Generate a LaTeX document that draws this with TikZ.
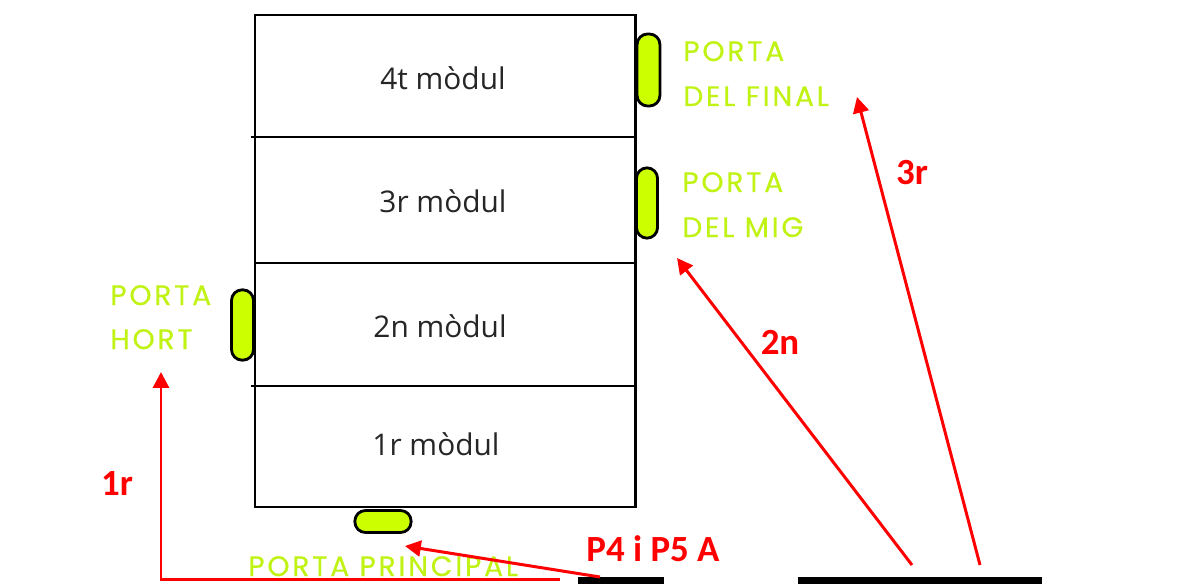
\documentclass[tikz,border=0pt]{standalone}
\usepackage{fontspec}
\setmainfont{Open Sans}
\newfontfamily\redfont{Carlito}
\newfontfamily\doorfont{Poppins}[LetterSpace=10,FakeBold=0.5]
\usetikzlibrary{arrows.meta}
\definecolor{lima}{RGB}{204,255,0}
\definecolor{limatxt}{RGB}{192,242,20}
\tikzset{
  mur/.style={line width=1.7pt},
  modul/.style={font=\fontsize{17}{20}\selectfont,text=black!85,anchor=base},
  porta/.style={draw,line width=1.6pt,fill=lima,rounded corners=6pt,inner sep=0pt},
  portatxt/.style={font=\doorfont\fontsize{16}{19}\selectfont,text=limatxt,anchor=base west,inner sep=0pt},
  pas/.style={font=\redfont\bfseries\fontsize{21}{24}\selectfont,text=red},
  ruta/.style={red,line width=1.7pt,-{Triangle[length=9pt,width=9pt]}},
  barra/.style={fill=black,inner sep=0pt,anchor=south west,minimum height=4pt}
}
\begin{document}
\begin{tikzpicture}[x=0.02cm,y=-0.02cm]
\useasboundingbox (0,0) rectangle (1185,584);
% edifici
\draw[mur] (255,15) rectangle (635,507);
\draw[mur] (251,137)--(637,137) (255,263)--(637,263) (251,386)--(635,386);
\node[modul] (m4) at (443,90) {4t mòdul};
\node[modul] (m3) at (443,213) {3r mòdul};
\node[modul] (m2) at (440,337) {2n mòdul};
\node[modul] (m1) at (436,455) {1r mòdul};
% portes
\node[porta,minimum width=13pt,minimum height=41pt] (pfinal) at (648.5,70) {};
\node[porta,minimum width=12pt,minimum height=40pt] (pmig) at (647,203) {};
\node[porta,minimum width=12.5pt,minimum height=40pt] (phort) at (242.5,325) {};
\node[porta,minimum width=32pt,minimum height=12.5pt] (pprinc) at (383,521.5) {};
\node[portatxt] (tfinal) at (683,61) {PORTA};
\node[portatxt] (tfinal2) at (683,106) {DEL FINAL};
\node[portatxt] (tmig) at (682,192) {PORTA};
\node[portatxt] (tmig2) at (682,237) {DEL MIG};
\node[portatxt] (thort) at (110,305) {PORTA};
\node[portatxt] (thort2) at (110,349) {HORT};
\node[portatxt] (tprinc) at (248,576) {PORTA PRINCIPAL};
% parades
\node[barra,minimum width=48.8pt] (bar1) at (578,584) {};
\node[barra,minimum width=138.5pt] (bar2) at (798,584) {};
% recorreguts
\coordinate (s1) at (560,579);
\coordinate (s2) at (600,577);
\coordinate (s3) at (912,565);
\coordinate (s4) at (980,565);
\coordinate (e1) at (161,372);
\coordinate (e2) at (405,546);
\coordinate (e3) at (677,258);
\coordinate (e4) at (857,97);
\draw[ruta] (s1)-|(e1);
\draw[ruta] (s2)--(e2);
\draw[ruta] (s3)--(e3);
\draw[ruta] (s4)--(e4);
\node[pas] (n1) at (117,484) {1r};
\node[pas] (n2) at (653,549) {P4 i P5 A};
\node[pas] (n3) at (780,342) {2n};
\node[pas] (n4) at (912,173) {3r};
\end{tikzpicture}
\end{document}
